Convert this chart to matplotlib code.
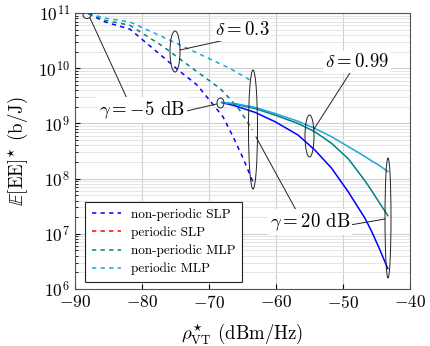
import numpy as np
import matplotlib.pyplot as plt
from matplotlib.patches import Ellipse
from matplotlib.lines import Line2D

plt.rcParams['font.family'] = 'serif'
plt.rcParams['font.serif'] = ['cmr10', 'DejaVu Serif']
plt.rcParams['mathtext.fontset'] = 'cm'
plt.rcParams['axes.formatter.use_mathtext'] = True

# couleurs (pgfplots)
BLUE = '#0000ff'
RED = '#ff0000'
TEAL = '#008080'
LBLUE = '#1ba6e0'

# courbes en pointillés (delta = 0.3), log10 de E[EE]
x_dash = [-88, -85.5, -81.8, -76.9, -74.3, -71.8, -69.9, -67.9, -66.4, -64.9, -63.4]
blue_dash = [10.99, 10.84, 10.71, 10.21, 9.94, 9.70, 9.42, 9.12, 8.76, 8.37, 7.93]
x_dash2 = [-88, -85.5, -81.8, -76.9, -71.8, -68.4, -66.9, -65.4, -63.5]
teal_dash = [10.99, 10.87, 10.78, 10.40, 9.94, 9.64, 9.45, 9.24, 8.88]
x_dash3 = [-88, -85.5, -81.8, -76.9, -71.8, -66.9, -64.3, -63.5]
lblue_dash = [10.99, 10.91, 10.84, 10.57, 10.28, 10.00, 9.82, 9.75]

# courbes pleines (delta = 0.99)
x_solid = [-68.1, -66.1, -63.1, -60.1, -56.7, -54.2, -51.7, -49.2, -46.7, -45.7, -44.7, -43.3]
blue_solid = [9.38, 9.32, 9.20, 9.03, 8.79, 8.52, 8.19, 7.76, 7.28, 7.04, 6.77, 6.37]
teal_solid = [9.38, 9.35, 9.27, 9.15, 9.00, 8.85, 8.64, 8.36, 7.96, 7.78, 7.59, 7.33]
lblue_solid = [9.38, 9.36, 9.29, 9.18, 9.04, 8.91, 8.76, 8.58, 8.40, 8.32, 8.25, 8.13]

labels = ['non-periodic SLP', 'periodic SLP', 'non-periodic MLP', 'periodic MLP']

fig = plt.figure(figsize=(4.31, 3.46), dpi=100)
ax = fig.add_axes([0.174, 0.165, 0.777, 0.797])

def p10(v):
    return 10 ** np.array(v)

dash_kw = dict(lw=1.1, dashes=(2.8, 2.8))
ax.plot(x_dash, p10(blue_dash), color=BLUE, **dash_kw)
ax.plot(x_dash2, p10(teal_dash), color=TEAL, **dash_kw)
ax.plot(x_dash3, p10(lblue_dash), color=LBLUE, **dash_kw)

ax.plot(x_solid, p10(blue_solid), color=BLUE, lw=1.1)
ax.plot(x_solid, p10(teal_solid), color=TEAL, lw=1.1)
ax.plot(x_solid, p10(lblue_solid), color=LBLUE, lw=1.1)

ax.set_yscale('log')
ax.set_xlim(-90, -40)
ax.set_ylim(1e6, 1e11)
ax.set_xticks([-90, -80, -70, -60, -50, -40])
ax.grid(True, which='major', color='#d0d0d0', lw=0.8)
ax.grid(True, which='minor', axis='y', color='#e0e0e0', lw=0.6)
ax.tick_params(which='both', direction='in', labelsize=12.5)
ax.tick_params(which='minor', length=2)
for s in ax.spines.values():
    s.set_color('#555555')
ax.set_xlabel(r'$\rho_{\mathrm{VT}}^{\star}$ (dBm/Hz)', fontsize=13.5, labelpad=8)
ax.set_ylabel(r'$\mathbb{E}[\mathrm{EE}]^{\star}$ (b/J)', fontsize=13.5, labelpad=6)

fig.canvas.draw()

# conversion pixels -> axes
W, H = 431, 346
def pix(px, py):
    return ax.transAxes.inverted().transform(fig.transFigure.transform((px / W, 1 - py / H)))

bw = ax.bbox.width
bh = ax.bbox.height
def ell(px, py, w, h):
    c = pix(px, py)
    ax.add_patch(Ellipse(c, w / bw, h / bh, transform=ax.transAxes, fill=False,
                         lw=0.7, color='#222222', zorder=5))

ell(87, 15, 8, 7)
ell(175, 51.5, 10, 41)
ell(253, 129.5, 9, 119)
ell(220.5, 103, 7, 10)
ell(309.5, 136, 9, 42)
ell(388, 218, 6, 120)

def seg(p0, p1):
    a = pix(*p0)
    b = pix(*p1)
    ax.plot([a[0], b[0]], [a[1], b[1]], transform=ax.transAxes, color='#222222', lw=0.7, zorder=6)

seg((90, 18), (130, 105))
seg((148, 120), (216.5, 104))
seg((180, 50), (243, 36))
seg((314, 129), (357, 62))
seg((256, 137), (296, 210))
seg((350, 225), (385, 219))

def txt(px, py, s):
    c = pix(px, py)
    ax.text(c[0], c[1], s, transform=ax.transAxes, ha='center', va='center', fontsize=13.5,
            zorder=7, bbox=dict(facecolor='white', edgecolor='none', pad=1.5))

txt(142, 110, r'$\gamma = -5$ dB')
txt(242, 30, r'$\delta = 0.3$')
txt(357, 62, r'$\delta = 0.99$')
txt(310, 222, r'$\gamma = 20$ dB')

handles = [Line2D([], [], color=c, **dash_kw) for c in [BLUE, RED, TEAL, LBLUE]]
leg = ax.legend(handles, labels, loc='lower left', bbox_to_anchor=(0.03, 0.025),
                borderaxespad=0, fontsize=9.5, fancybox=False, framealpha=1,
                edgecolor='#222222', handlelength=2.2, labelspacing=0.42, borderpad=0.5)
leg.get_frame().set_linewidth(0.8)
leg.set_zorder(10)

fig.savefig('out.png', dpi=100)
